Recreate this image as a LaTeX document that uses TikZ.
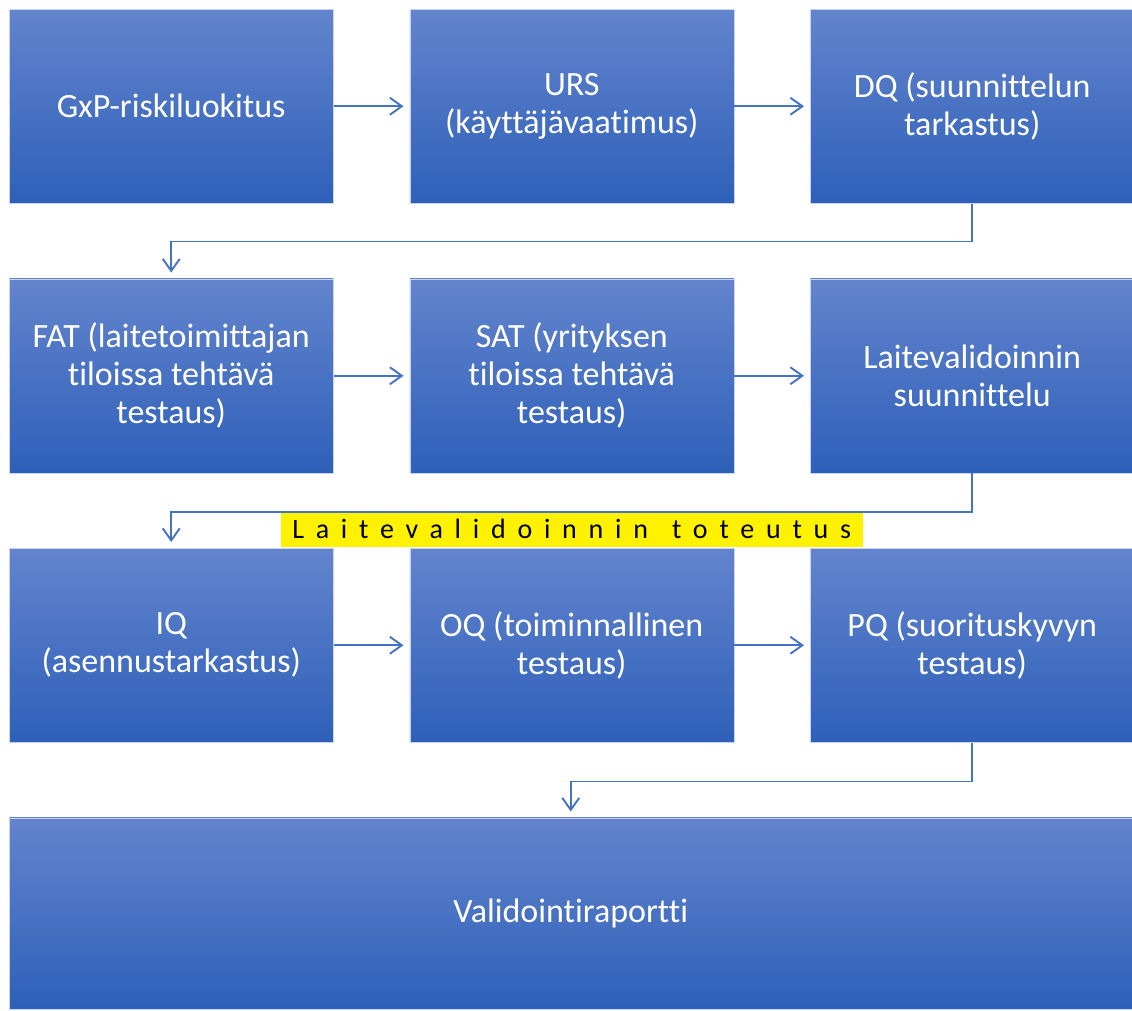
\documentclass[tikz,border=0pt]{standalone}
\usepackage{fontspec}
\setmainfont{Carlito}[Ligatures=NoCommon]
\usetikzlibrary{positioning,arrows.meta}
\definecolor{flowblue}{RGB}{68,114,196}
\definecolor{boxtop}{RGB}{99,132,205}
\definecolor{boxbottom}{RGB}{46,96,185}
\definecolor{boxedge}{RGB}{200,212,238}

\begin{document}
\begin{tikzpicture}[
	stagebox/.style={rectangle, minimum width=324pt, minimum height=194pt, inner sep=0pt,
		top color=boxtop, bottom color=boxbottom, draw=boxedge, line width=0.5pt,
		text=white, align=center, font=\fontsize{34}{38}\selectfont},
	flow/.style={flowblue, line width=1.9pt, -{Straight Barb[length=12pt,width=17pt]}, shorten >=6pt},
	phasetag/.style={fill=yellow, text=black, minimum width=582pt, minimum height=35pt, inner sep=0pt,
		font=\fontsize{28}{30}\selectfont\addfontfeature{LetterSpace=42}},
	node distance=75pt and 76pt
	]
		\useasboundingbox (0,0) rectangle (1132pt,-1010pt);
		%first row
			\node[stagebox, anchor=north west] (grx) at (9pt,-9pt) {GxP-riskiluokitus};
			\node[stagebox, right=of grx] (urs) {URS\\(käyttäjävaatimus)};
			\node[stagebox, right=of urs] (dq) {DQ (suunnittelun\\tarkastus)};
		%second row
			\node[stagebox, below=of grx] (fat) {FAT (laitetoimittajan\\tiloissa tehtävä\\testaus)};
			\node[stagebox, right=of fat] (sat) {SAT (yrityksen\\tiloissa tehtävä\\testaus)};
			\node[stagebox, right=of sat] (lvs) {Laitevalidoinnin\\suunnittelu};
		%third row
			\node[stagebox, below=of fat] (iq) {IQ\\(asennustarkastus)};
			\node[stagebox, right=of iq] (oq) {OQ (toiminnallinen\\testaus)};
			\node[stagebox, right=of oq] (pq) {PQ (suorituskyvyn\\testaus)};
		%report
			\node[stagebox, below=of iq.south west, anchor=north west, minimum width=1123pt, minimum height=191pt] (report) {Validointiraportti};
		%phase label
			\node[phasetag, above=1pt of oq.north] (tag) {Laitevalidoinnin\hspace{6pt} toteutus};
		%arrows
			\draw[flow] (grx) -- (urs);
			\draw[flow] (urs) -- (dq);
			\draw[flow] (fat) -- (sat);
			\draw[flow] (sat) -- (lvs);
			\draw[flow] (iq) -- (oq);
			\draw[flow] (oq) -- (pq);
			\draw[flow] (dq.south) -- ++(0,-38pt) -| (fat.north);
			\draw[flow] (lvs.south) -- ++(0,-39pt) -| (iq.north);
			\draw[flow] (pq.south) -- ++(0,-39pt) -| (report.north);
	\end{tikzpicture}
\end{document}
